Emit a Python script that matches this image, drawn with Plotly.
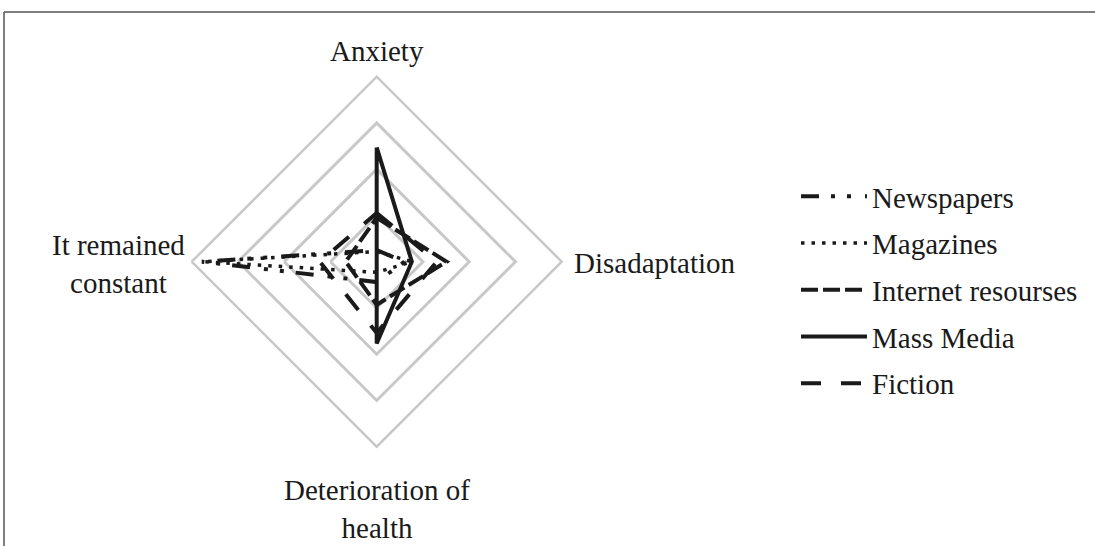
import plotly.graph_objects as go

categories = ["Anxiety", "Disadaptation", "Deterioration of health", "It remained constant"]
label_text = ["Anxiety", "Disadaptation", "Deterioration of<br>health", "It remained<br>constant"]

series_names = ["Newspapers", "Magazines", "Internet resourses", "Mass Media", "Fiction"]
newspapers = [2.5, 6.0, 4.4, 37.8]
magazines = [2.2, 7.6, 2.3, 37.5]
internet = [9.5, 15.1, 9.3, 6.7]
mass_media = [24.7, 7.6, 17.7, 0.0]
fiction = [10.5, 13.0, 15.4, 12.3]
series_values = [newspapers, magazines, internet, mass_media, fiction]

dashes = ["18px,12px,4px,12px,4px,14px", "3.5px,7px", "17px,5px", "solid", "20px,20px"]
widths = [4, 3.5, 4, 4, 4]

FONT = "Liberation Serif"

fig = go.Figure()
for name, vals, d, w in zip(series_names, series_values, dashes, widths):
    fig.add_trace(go.Scatterpolar(
        r=vals + [vals[0]],
        theta=categories + [categories[0]],
        mode="lines",
        name=name,
        legendgroup=name,
        line=dict(color="#1a1a1a", width=w, dash=d),
    ))

fig.update_layout(
    width=1095, height=546,
    margin=dict(l=0, r=0, t=0, b=0),
    paper_bgcolor="white",
    plot_bgcolor="white",
    font=dict(family=FONT, size=29, color="#1a1a1a"),
    polar=dict(
        domain=dict(x=[191.7 / 1095, 561.7 / 1095], y=[1 - 446.7 / 546, 1 - 76.7 / 546]),
        gridshape="linear",
        bgcolor="white",
        radialaxis=dict(range=[0, 40], tickvals=[10, 20, 30], showticklabels=False,
                        ticks="", showline=False, gridcolor="#c8c8c8", gridwidth=2.5),
        angularaxis=dict(rotation=90, direction="clockwise", showgrid=False,
                         showline=True, linecolor="#c8c8c8", linewidth=2.5,
                         showticklabels=False, ticks=""),
    ),
    showlegend=True,
    legend=dict(x=796 / 1095, y=1 - 290 / 546, xanchor="left", yanchor="middle",
                font=dict(family=FONT, size=29), tracegroupgap=6, itemwidth=66,
                bgcolor="rgba(0,0,0,0)"),
)

label_pos = [
    dict(x=377 / 1095, y=1 - 51 / 546, xanchor="center", yanchor="middle"),
    dict(x=572 / 1095, y=1 - 263 / 546, xanchor="left", yanchor="middle"),
    dict(x=377 / 1095, y=1 - 509 / 546, xanchor="center", yanchor="middle"),
    dict(x=187 / 1095, y=1 - 264 / 546, xanchor="right", yanchor="middle"),
]
for txt, p in zip(label_text, label_pos):
    fig.add_annotation(text=txt, xref="paper", yref="paper", showarrow=False,
                       align="center", font=dict(family=FONT, size=29, color="#1a1a1a"), **p)

# outer frame (top and left edges)
fig.add_shape(type="line", xref="paper", yref="paper", x0=4 / 1095, x1=1, y0=1 - 12 / 546, y1=1 - 12 / 546,
              line=dict(color="#555555", width=1.5))
fig.add_shape(type="line", xref="paper", yref="paper", x0=4 / 1095, x1=4 / 1095, y0=0, y1=1 - 12 / 546,
              line=dict(color="#555555", width=1.5))

fig.write_html("out.html", config={"displayModeBar": False},
               post_script="document.body.style.margin='0';document.body.style.overflow='hidden';")
